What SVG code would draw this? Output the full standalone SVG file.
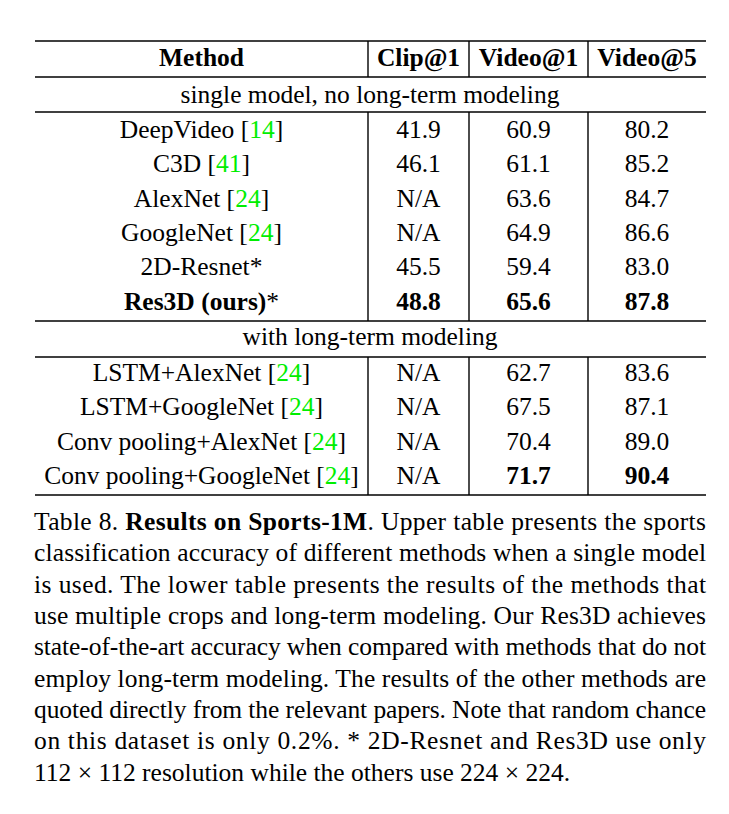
<svg xmlns="http://www.w3.org/2000/svg" width="729" height="814" viewBox="0 0 729 814">
<style>
text{font-family:"Liberation Serif","Times New Roman",serif;font-size:25.5px;fill:#000}
.c{text-anchor:middle}
.b{font-weight:bold}
.g{fill:#00ee00}
line{stroke:#000;stroke-width:1.4}
</style>
<rect width="729" height="814" fill="#fff"/>
<g id="rules">
<line x1="35" y1="41" x2="706" y2="41"/>
<line x1="35" y1="77" x2="706" y2="77"/>
<line x1="35" y1="112" x2="706" y2="112"/>
<line x1="35" y1="321" x2="706" y2="321"/>
<line x1="35" y1="357" x2="706" y2="357"/>
<line x1="35" y1="495" x2="706" y2="495"/>
<line x1="368" y1="41" x2="368" y2="77"/>
<line x1="469" y1="41" x2="469" y2="77"/>
<line x1="588" y1="41" x2="588" y2="77"/>
<line x1="368" y1="112" x2="368" y2="321"/>
<line x1="469" y1="112" x2="469" y2="321"/>
<line x1="588" y1="112" x2="588" y2="321"/>
<line x1="368" y1="357" x2="368" y2="495"/>
<line x1="469" y1="357" x2="469" y2="495"/>
<line x1="588" y1="357" x2="588" y2="495"/>
</g>
<g id="header">
<text class="c b" x="201.5" y="66">Method</text>
<text class="c b" x="418.5" y="66">Clip@1</text>
<text class="c b" x="528.5" y="66">Video@1</text>
<text class="c b" x="647" y="66">Video@5</text>
</g>
<g id="section1">
<text class="c" x="370" y="103">single model, no long-term modeling</text>
<text class="c" x="201.5" y="138">DeepVideo [<tspan class="g">14</tspan>]</text>
<text class="c" x="418.5" y="138">41.9</text><text class="c" x="528.5" y="138">60.9</text><text class="c" x="647" y="138">80.2</text>
<text class="c" x="201.5" y="172">C3D [<tspan class="g">41</tspan>]</text>
<text class="c" x="418.5" y="172">46.1</text><text class="c" x="528.5" y="172">61.1</text><text class="c" x="647" y="172">85.2</text>
<text class="c" x="201.5" y="207">AlexNet [<tspan class="g">24</tspan>]</text>
<text class="c" x="418.5" y="207">N/A</text><text class="c" x="528.5" y="207">63.6</text><text class="c" x="647" y="207">84.7</text>
<text class="c" x="201.5" y="241">GoogleNet [<tspan class="g">24</tspan>]</text>
<text class="c" x="418.5" y="241">N/A</text><text class="c" x="528.5" y="241">64.9</text><text class="c" x="647" y="241">86.6</text>
<text class="c" x="201.5" y="275">2D-Resnet*</text>
<text class="c" x="418.5" y="275">45.5</text><text class="c" x="528.5" y="275">59.4</text><text class="c" x="647" y="275">83.0</text>
<text class="c" x="201.5" y="310"><tspan class="b">Res3D (ours)</tspan>*</text>
<text class="c b" x="418.5" y="310">48.8</text><text class="c b" x="528.5" y="310">65.6</text><text class="c b" x="647" y="310">87.8</text>
</g>
<g id="section2">
<text class="c" x="370" y="345">with long-term modeling</text>
<text class="c" x="201.5" y="381">LSTM+AlexNet [<tspan class="g">24</tspan>]</text>
<text class="c" x="418.5" y="381">N/A</text><text class="c" x="528.5" y="381">62.7</text><text class="c" x="647" y="381">83.6</text>
<text class="c" x="201.5" y="415">LSTM+GoogleNet [<tspan class="g">24</tspan>]</text>
<text class="c" x="418.5" y="415">N/A</text><text class="c" x="528.5" y="415">67.5</text><text class="c" x="647" y="415">87.1</text>
<text class="c" x="201.5" y="450">Conv pooling+AlexNet [<tspan class="g">24</tspan>]</text>
<text class="c" x="418.5" y="450">N/A</text><text class="c" x="528.5" y="450">70.4</text><text class="c" x="647" y="450">89.0</text>
<text class="c" x="201.5" y="484">Conv pooling+GoogleNet [<tspan class="g">24</tspan>]</text>
<text class="c" x="418.5" y="484">N/A</text><text class="c b" x="528.5" y="484">71.7</text><text class="c b" x="647" y="484">90.4</text>
</g>
<g id="caption">
<text x="34" y="530" textLength="672" lengthAdjust="spacing">Table 8. <tspan class="b">Results on Sports-1M</tspan>. Upper table presents the sports</text>
<text x="34" y="561" textLength="672" lengthAdjust="spacing">classification accuracy of different methods when a single model</text>
<text x="34" y="593" textLength="672" lengthAdjust="spacing">is used.  The lower table presents the results of the methods that</text>
<text x="34" y="624" textLength="672" lengthAdjust="spacing">use multiple crops and long-term modeling. Our Res3D achieves</text>
<text x="34" y="655" textLength="672" lengthAdjust="spacing">state-of-the-art accuracy when compared with methods that do not</text>
<text x="34" y="687" textLength="672" lengthAdjust="spacing">employ long-term modeling. The results of the other methods are</text>
<text x="34" y="718" textLength="672" lengthAdjust="spacing">quoted directly from the relevant papers. Note that random chance</text>
<text x="34" y="749" textLength="672" lengthAdjust="spacing">on this dataset is only 0.2%.  * 2D-Resnet and Res3D use only</text>
<text x="34" y="781">112 × 112 resolution while the others use 224 × 224.</text>
</g>
</svg>
